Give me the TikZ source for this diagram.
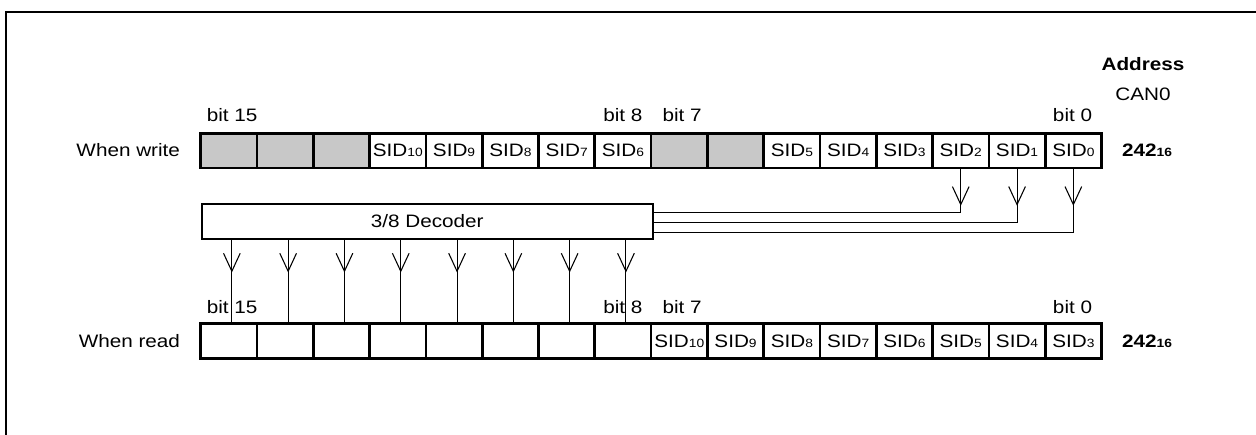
\documentclass[tikz,border=0pt]{standalone}
\usepackage{fontspec}
\setmainfont{Liberation Sans}[FakeStretch=1.15]
\usetikzlibrary{arrows.meta,positioning,decorations.markings}
\definecolor{regfill}{RGB}{200,200,200}
\newcommand{\labelsize}{\fontsize{13.5}{16}\selectfont}
\newcommand{\regsid}[1]{SID{\fontsize{9}{10}\selectfont #1}}
\newcommand{\hexsub}[1]{{\fontsize{9}{10}\selectfont\bfseries #1}}
\tikzset{
  cell/.style={draw, line width=2pt, minimum width=42.2pt, minimum height=26pt, inner sep=0pt, outer sep=0pt},
  link/.style={line width=0.8pt},
  vmark/.style={postaction={decorate}, decoration={markings,
    mark=at position #1 with {\arrow{Straight Barb[length=13.5pt,width=12.5pt]}}}},
}
\begin{document}
\begin{tikzpicture}[x=0.75pt, y=0.75pt, every node/.style={font=\labelsize}]
  \useasboundingbox (0,0) rectangle (1256,-435);
  \draw[line width=1.5pt] (1256,-12) -- (6,-12) -- (6,-435);
  % register when write
  \foreach \t/\c [count=\i from 0] in {{}/regfill,{}/regfill,{}/regfill,\regsid{10}/white,\regsid{9}/white,\regsid{8}/white,\regsid{7}/white,\regsid{6}/white,{}/regfill,{}/regfill,\regsid{5}/white,\regsid{4}/white,\regsid{3}/white,\regsid{2}/white,\regsid{1}/white,\regsid{0}/white}
    \node[cell, fill=\c] (w\i) at ({228.85+56.3*\i},-150.5) {\t};
  % register when read
  \foreach \t [count=\i from 0] in {{},{},{},{},{},{},{},{},\regsid{10},\regsid{9},\regsid{8},\regsid{7},\regsid{6},\regsid{5},\regsid{4},\regsid{3}}
    \node[cell, fill=white] (r\i) at ({228.85+56.3*\i},-341) {\t};
  \node[anchor=base west] (wb15) at ([xshift=1pt,yshift=9pt]w0.north west) {bit 15};
  \node[anchor=base east] (wb8) at ([xshift=-3pt,yshift=9pt]w7.north east) {bit 8};
  \node[anchor=base west] (wb7) at ([xshift=5pt,yshift=9pt]w8.north west) {bit 7};
  \node[anchor=base east] (wb0) at ([xshift=-3.5pt,yshift=9pt]w15.north east) {bit 0};
  \node[anchor=base west] (rb15) at ([xshift=1pt,yshift=8pt]r0.north west) {bit 15};
  \node[anchor=base east] (rb8) at ([xshift=-3pt,yshift=8pt]r7.north east) {bit 8};
  \node[anchor=base west] (rb7) at ([xshift=5pt,yshift=8pt]r8.north west) {bit 7};
  \node[anchor=base east] (rb0) at ([xshift=-3.5pt,yshift=8pt]r15.north east) {bit 0};
  \node[left=12pt of w0] (wlab) {When write};
  \node[left=12pt of r0] (rlab) {When read};
  \node[right=12pt of w15, font={\labelsize\bfseries}] (wadr) {242\hexsub{16}};
  \node[right=12pt of r15, font={\labelsize\bfseries}] (radr) {242\hexsub{16}};
  \node[font={\labelsize\bfseries}] (addr) at (1143,-64) {Address};
  \node (can) at (1143,-94) {CAN0};
  % decoder
  \node[draw, line width=1.5pt, minimum width=338.3pt, minimum height=25.9pt,
    inner sep=0pt, anchor=north west] (dec) at (200.7,-203) {3/8 Decoder};
  \draw[link, vmark=28.5pt] (w13.south) |- (dec.east |- 0,-212.7);
  \draw[link, vmark=28.5pt] (w14.south) |- (dec.east |- 0,-222.7);
  \draw[link, vmark=28.5pt] (w15.south) |- (dec.east |- 0,-232.5);
  \foreach \i in {0,...,7} {
    \coordinate (o\i) at ([xshift=2.25pt]r\i.north);
    \draw[link, vmark=24.75pt] (dec.south -| o\i) -- (o\i);
  }
\end{tikzpicture}
\end{document}
